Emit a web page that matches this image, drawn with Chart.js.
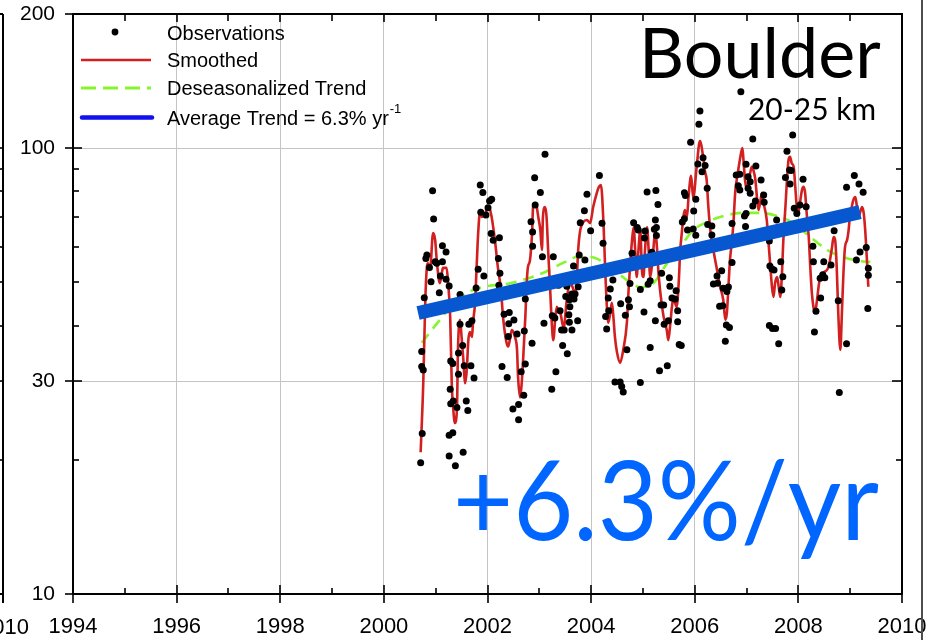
<!DOCTYPE html>
<html>
<head>
<meta charset="utf-8">
<title>Boulder 20-25 km</title>
<script src="https://cdn.jsdelivr.net/npm/chart.js@4/dist/chart.umd.min.js"></script>
<style>
  html, body { margin: 0; padding: 0; background: #ffffff; }
  #wrap { width: 942px; height: 640px; position: relative; }
  canvas { display: block; }
</style>
</head>
<body>
<div id="wrap"><canvas id="c" width="942" height="640"></canvas></div>
<script>
// Axis ticks
const tickYears = [1994, 1996, 1998, 2000, 2002, 2004, 2006, 2008, 2010];
const minorYears = [1995, 1997, 1999, 2001, 2003, 2005, 2007, 2009];
const yTickValues = [10, 30, 100, 200];
const yMinorValues = [20, 40, 50, 60, 70, 80, 90];

// Individual observations (decimal year, value)
const obsYears = [
  2000.71, 2000.74, 2000.73, 2000.73, 2000.76, 2000.78, 2000.81, 2000.83, 2000.88, 2000.91,
  2000.94, 2000.96, 2000.99, 2001.02, 2001.07, 2001.09, 2001.13, 2001.13, 2001.20, 2001.20,
  2001.26, 2001.29, 2001.33, 2001.28, 2001.29, 2001.34, 2001.41, 2001.26, 2001.33, 2001.26,
  2001.38, 2001.44, 2001.44, 2001.47, 2001.47, 2001.52, 2001.55, 2001.53, 2001.59, 2001.62,
  2001.64, 2001.68, 2001.70, 2001.74, 2001.78, 2001.82, 2001.86, 2001.91, 2001.87, 2001.93,
  2001.97, 2002.01, 2002.04, 2002.08, 2002.07, 2002.11, 2002.23, 2002.21, 2002.24, 2002.22,
  2002.32, 2002.42, 2002.41, 2002.51, 2002.57, 2002.40, 2002.28, 2002.38, 2002.49, 2002.60,
  2002.60, 2002.65, 2002.70, 2002.71, 2002.73, 2002.73, 2002.86, 2002.84, 2002.87, 2002.87,
  2002.92, 2002.91, 2003.02, 2003.11, 2003.06, 2003.09, 2003.27, 2003.24, 2003.32, 2003.25,
  2003.30, 2003.37, 2003.40, 2003.43, 2003.48, 2003.45, 2003.54, 2003.51, 2003.57, 2003.58,
  2003.53, 2003.58, 2003.63, 2003.59, 2003.63, 2003.69, 2003.67, 2003.74, 2003.75, 2003.66,
  2003.77, 2003.88, 2003.79, 2003.87, 2003.92, 2003.99, 2004.16, 2004.21, 2004.23, 2004.42,
  2004.37, 2004.33, 2004.34, 2004.28, 2004.30, 2004.57, 2004.72, 2004.74, 2004.66, 2004.69,
  2004.46, 2004.56, 2004.59, 2004.62, 2004.95, 2004.75, 2004.79, 2004.82, 2004.89, 2004.91,
  2004.95, 2005.02, 2005.04, 2005.03, 2005.08, 2005.25, 2005.29, 2005.24, 2005.26, 2005.22,
  2005.26, 2005.10, 2005.14, 2005.17, 2005.24, 2005.14, 2005.32, 2005.47, 2005.36, 2005.35,
  2005.40, 2005.41, 2005.49, 2005.52, 2005.51, 2005.56, 2005.62, 2005.64, 2005.67, 2005.67,
  2005.70, 2005.74, 2005.76, 2005.80, 2005.82, 2005.86, 2005.97, 2006.02, 2005.98, 2006.02,
  2005.80, 2006.10, 2006.08, 2005.92, 2006.16, 2006.06, 2006.20, 2006.14, 2006.24, 2006.89,
  2007.12, 2006.99, 2007.18, 2006.80, 2006.87, 2007.03, 2007.07, 2006.84, 2006.87, 2007.07,
  2007.28, 2007.33, 2007.17, 2007.34, 2006.25, 2006.33, 2006.43, 2006.36, 2006.44, 2006.48,
  2007.89, 2007.78, 2007.83, 2007.86, 2007.75, 2007.84, 2008.09, 2006.33, 2006.72, 2007.03,
  2007.12, 2006.99, 2006.96, 2006.98, 2007.44, 2007.58, 2007.45, 2007.49, 2007.53, 2007.66,
  2007.70, 2007.68, 2007.44, 2007.50, 2007.56, 2007.62, 2006.72, 2006.52, 2006.55, 2006.65,
  2006.62, 2006.54, 2006.61, 2006.67, 2006.59, 2007.92, 2007.97, 2008.03, 2008.15, 2008.28,
  2008.29, 2008.49, 2008.47, 2008.42, 2008.51, 2008.43, 2008.34, 2008.31, 2008.69, 2008.63,
  2008.77, 2008.93, 2008.79, 2008.93, 2009.08, 2009.17, 2009.25, 2009.12, 2009.19, 2009.31,
  2009.35, 2009.35, 2009.34
];
const obsValues = [
  19.7, 22.9, 35.0, 32.4, 31.8, 46.2, 56.6, 57.6, 54.0, 50.2,
  80.3, 69.4, 55.6, 55.2, 47.4, 51.7, 60.4, 55.6, 58.5, 50.8,
  49.1, 33.3, 32.9, 28.8, 26.7, 27.1, 26.2, 22.7, 23.0, 20.4,
  19.4, 34.7, 31.1, 47.0, 40.3, 36.1, 32.5, 20.8, 27.1, 25.8,
  40.3, 32.5, 41.0, 30.5, 48.6, 53.5, 82.7, 79.5, 71.8, 51.7,
  70.8, 73.5, 76.1, 76.8, 64.4, 62.2, 63.0, 56.6, 52.4, 49.3,
  42.4, 42.8, 40.4, 41.2, 38.3, 37.8, 32.4, 30.6, 26.0, 26.6,
  24.6, 31.5, 27.9, 38.9, 32.8, 45.9, 36.5, 68.4, 64.9, 60.3,
  74.6, 85.9, 79.5, 96.9, 57.1, 40.5, 57.1, 28.8, 31.5, 42.1,
  41.6, 49.3, 43.2, 39.1, 39.1, 36.1, 34.6, 46.5, 42.3, 40.7,
  49.0, 45.7, 39.1, 44.1, 47.1, 47.1, 45.9, 41.0, 48.9, 54.4,
  57.6, 56.1, 68.0, 72.4, 78.8, 65.3, 86.9, 67.9, 61.2, 50.6,
  48.3, 46.1, 43.2, 41.9, 39.3, 44.8, 45.7, 44.1, 42.2, 35.3,
  29.9, 29.9, 29.2, 28.4, 29.8, 49.7, 58.1, 68.0, 66.4, 65.5,
  48.2, 42.9, 65.2, 62.9, 79.8, 80.4, 74.8, 69.0, 66.4, 65.8,
  63.7, 49.5, 50.4, 58.4, 41.0, 35.7, 31.7, 32.5, 52.4, 44.5,
  44.5, 40.3, 41.0, 49.0, 51.2, 46.1, 45.9, 47.9, 43.2, 40.8,
  36.3, 36.1, 68.3, 69.5, 78.3, 65.5, 65.9, 63.8, 72.3, 76.8,
  79.4, 121.2, 113.1, 103.1, 95.2, 92.2, 91.4, 88.6, 81.3, 133.9,
  104.9, 92.0, 91.2, 87.1, 87.4, 86.3, 84.1, 82.4, 80.6, 79.2,
  84.9, 78.5, 76.1, 75.6, 67.4, 66.9, 51.7, 49.6, 49.8, 44.2,
  107.1, 98.4, 89.4, 89.1, 86.0, 83.1, 85.2, 63.9, 67.8, 81.3,
  74.2, 71.4, 70.5, 66.7, 61.9, 69.0, 54.4, 53.6, 53.3, 55.6,
  51.5, 48.1, 40.0, 39.4, 39.4, 36.4, 55.4, 53.1, 48.5, 48.8,
  47.7, 44.3, 40.1, 39.6, 36.9, 73.3, 71.4, 74.6, 73.9, 60.3,
  55.6, 55.6, 52.0, 51.1, 51.2, 46.1, 43.1, 38.7, 65.3, 54.7,
  45.5, 36.4, 28.3, 81.7, 86.9, 83.1, 79.6, 56.1, 58.5, 59.9,
  53.8, 51.9, 43.7
];

// Smoothed series
const smoothYears = [
  2000.71, 2000.76, 2000.80, 2000.83, 2000.85, 2000.89, 2000.95, 2000.99, 2001.02, 2001.08,
  2001.12, 2001.14, 2001.21, 2001.24, 2001.28, 2001.31, 2001.34, 2001.37, 2001.41, 2001.43,
  2001.47, 2001.50, 2001.53, 2001.57, 2001.60, 2001.63, 2001.66, 2001.70, 2001.72, 2001.76,
  2001.79, 2001.82, 2001.86, 2001.89, 2001.92, 2001.95, 2001.99, 2002.03, 2002.08, 2002.15,
  2002.20, 2002.26, 2002.30, 2002.37, 2002.40, 2002.44, 2002.47, 2002.53, 2002.57, 2002.59,
  2002.63, 2002.66, 2002.69, 2002.73, 2002.76, 2002.78, 2002.82, 2002.86, 2002.88, 2002.92,
  2002.95, 2002.98, 2003.02, 2003.05, 2003.07, 2003.11, 2003.14, 2003.17, 2003.21, 2003.24,
  2003.27, 2003.31, 2003.34, 2003.36, 2003.40, 2003.47, 2003.53, 2003.59, 2003.66, 2003.69,
  2003.72, 2003.75, 2003.79, 2003.85, 2003.92, 2003.98, 2004.04, 2004.11, 2004.15, 2004.19,
  2004.24, 2004.27, 2004.30, 2004.33, 2004.37, 2004.40, 2004.43, 2004.46, 2004.50, 2004.56,
  2004.62, 2004.69, 2004.72, 2004.75, 2004.79, 2004.82, 2004.85, 2004.88, 2004.91, 2004.95,
  2004.98, 2005.01, 2005.04, 2005.08, 2005.11, 2005.14, 2005.17, 2005.20, 2005.24, 2005.27,
  2005.30, 2005.33, 2005.36, 2005.40, 2005.46, 2005.49, 2005.53, 2005.56, 2005.59, 2005.62,
  2005.65, 2005.69, 2005.72, 2005.75, 2005.78, 2005.81, 2005.85, 2005.88, 2005.93, 2005.97,
  2006.04, 2006.10, 2006.17, 2006.20, 2006.23, 2006.26, 2006.30, 2006.36, 2006.43, 2006.49,
  2006.55, 2006.59, 2006.62, 2006.65, 2006.68, 2006.72, 2006.75, 2006.78, 2006.81, 2006.84,
  2006.88, 2006.92, 2006.94, 2006.97, 2007.01, 2007.04, 2007.07, 2007.10, 2007.13, 2007.17,
  2007.20, 2007.23, 2007.26, 2007.30, 2007.33, 2007.39, 2007.42, 2007.46, 2007.49, 2007.52,
  2007.55, 2007.59, 2007.62, 2007.65, 2007.68, 2007.71, 2007.75, 2007.78, 2007.81, 2007.84,
  2007.87, 2007.91, 2007.94, 2007.97, 2008.00, 2008.03, 2008.07, 2008.10, 2008.13, 2008.16,
  2008.20, 2008.23, 2008.26, 2008.29, 2008.32, 2008.36, 2008.39, 2008.42, 2008.48, 2008.55,
  2008.58, 2008.61, 2008.65, 2008.68, 2008.71, 2008.74, 2008.77, 2008.81, 2008.84, 2008.87,
  2008.90, 2008.94, 2008.97, 2009.00, 2009.03, 2009.06, 2009.10, 2009.13, 2009.16, 2009.19,
  2009.23, 2009.26, 2009.29, 2009.32, 2009.35
];
const smoothValues = [
  20.8, 29.7, 45.7, 54.1, 55.2, 53.3, 64.5, 62.2, 56.1, 49.8,
  52.5, 53.9, 53.9, 49.8, 41.8, 29.7, 25.9, 24.2, 25.9, 35.3,
  41.2, 37.7, 34.0, 29.7, 31.8, 37.1, 38.7, 37.7, 40.6, 45.0,
  54.1, 64.5, 72.7, 70.1, 71.6, 70.1, 73.8, 73.8, 70.1, 61.2,
  54.1, 48.1, 41.8, 36.5, 35.9, 37.7, 39.1, 37.7, 35.3, 30.7,
  27.6, 29.7, 34.0, 41.8, 50.6, 54.1, 56.1, 64.5, 73.8, 75.3,
  73.8, 70.1, 65.5, 59.1, 70.1, 73.8, 70.1, 59.1, 48.1, 40.6,
  37.1, 41.8, 44.1, 43.4, 43.0, 39.5, 45.7, 49.8, 48.1, 46.4,
  49.8, 59.1, 65.5, 68.3, 69.0, 67.9, 73.8, 79.4, 81.9, 82.7,
  67.2, 54.1, 45.0, 40.6, 42.7, 45.0, 41.8, 37.7, 34.8, 33.0,
  35.3, 40.6, 47.4, 54.1, 62.2, 66.5, 59.1, 51.4, 58.2, 65.5,
  53.3, 51.4, 59.1, 66.5, 59.1, 51.4, 54.1, 59.1, 65.5, 60.0,
  52.5, 48.1, 45.0, 41.8, 39.1, 37.1, 40.6, 44.1, 46.4, 45.0,
  44.1, 49.8, 59.1, 64.5, 70.1, 72.7, 70.1, 77.7, 86.7, 77.3,
  91.7, 103.8, 94.1, 88.5, 84.9, 74.6, 65.5, 59.1, 53.3, 48.9,
  45.7, 41.2, 42.7, 48.9, 56.1, 62.2, 69.0, 79.4, 84.9, 89.4,
  95.6, 100.1, 94.1, 84.9, 80.6, 84.9, 88.0, 90.8, 89.4, 84.9,
  77.7, 72.7, 75.3, 79.4, 75.3, 69.0, 62.2, 54.1, 48.9, 46.4,
  49.8, 51.4, 48.9, 46.4, 51.4, 62.2, 73.8, 84.9, 94.1, 95.6,
  92.6, 90.8, 81.9, 73.8, 71.6, 75.3, 80.6, 81.9, 79.4, 71.6,
  63.2, 54.1, 47.4, 44.1, 42.7, 45.7, 48.9, 51.4, 52.5, 53.3,
  54.1, 56.1, 60.0, 63.2, 62.2, 54.1, 42.7, 35.3, 42.7, 52.5,
  60.0, 62.2, 65.5, 71.6, 73.8, 76.5, 77.7, 73.8, 70.1, 71.6,
  73.8, 71.6, 65.5, 57.0, 48.9
];

// Deseasonalized trend
const deseasYears = [
  2000.73, 2001.03, 2001.47, 2001.92, 2002.44, 2003.07, 2003.50, 2003.73, 2003.98, 2004.37,
  2004.69, 2004.95, 2005.20, 2005.47, 2005.72, 2005.97, 2006.24, 2006.49, 2006.93, 2007.26,
  2007.65, 2007.90, 2008.23, 2008.56, 2008.86, 2009.19, 2009.39
];
const deseasValues = [
  36.6, 40.5, 46.4, 48.8, 49.8, 52.5, 55.6, 57.0, 57.0, 54.1,
  50.6, 48.8, 49.8, 55.3, 60.0, 65.5, 68.3, 70.1, 71.6, 71.6,
  70.1, 68.0, 63.2, 59.1, 57.0, 55.8, 55.6
];

// Average trend, 6.3 % per year
const trendYears = [2000.66, 2009.19];
const trendValues = [42.7, 71.9];

const pairs = (xs, ys) => xs.map((x, i) => ({ x, y: ys[i] }));

const SANS = "'Liberation Sans', Arimo, Arial, sans-serif";
const HUMANIST = "Lato, 'Open Sans', sans-serif";

// Frame, tick marks and the edges of the neighbouring panels
const framePlugin = {
  id: 'frame',
  afterDraw(chart) {
    const { ctx, chartArea: a, scales: { x, y } } = chart;
    const seg = (x1, y1, x2, y2) => { ctx.beginPath(); ctx.moveTo(x1, y1); ctx.lineTo(x2, y2); ctx.stroke(); };
    ctx.save();
    ctx.strokeStyle = '#000';
    ctx.lineWidth = 2;
    ctx.strokeRect(a.left, a.top, a.right - a.left, a.bottom - a.top);

    ctx.lineWidth = 1.6;
    tickYears.forEach(v => {
      const px = Math.round(x.getPixelForValue(v));
      seg(px, a.bottom - 9, px, a.bottom + 9);
      seg(px, a.top, px, a.top + 8);
    });
    minorYears.forEach(v => {
      const px = Math.round(x.getPixelForValue(v));
      seg(px, a.bottom - 6, px, a.bottom);
      seg(px, a.top, px, a.top + 7);
    });
    yTickValues.forEach(v => {
      const py = Math.round(y.getPixelForValue(v));
      seg(a.left - 8, py, a.left + 9, py);
      seg(a.right - 10, py, a.right, py);
    });
    yMinorValues.forEach(v => {
      const py = Math.round(y.getPixelForValue(v));
      seg(a.left, py, a.left + 6, py);
      seg(a.right - 6, py, a.right, py);
    });

    // edge of the panel on the left
    ctx.lineWidth = 2;
    seg(3, a.top, 3, a.bottom + 9);
    seg(0, a.top, 3, a.top);
    seg(0, a.bottom, 3, a.bottom);
    ctx.lineWidth = 1.6;
    yTickValues.concat(yMinorValues).forEach(v => {
      const py = Math.round(y.getPixelForValue(v));
      seg(0, py, 3, py);
    });
    ctx.fillStyle = '#000';
    ctx.font = '22px ' + SANS;
    ctx.textAlign = 'center';
    ctx.textBaseline = 'alphabetic';
    ctx.fillText(String(tickYears[tickYears.length - 1]), 4.5, 634);

    // edge of the panel on the right
    ctx.strokeStyle = '#4d4d4d';
    ctx.lineWidth = 2;
    seg(922, 0, 922, 640);
    ctx.restore();
  }
};

// Station name, altitude band and the trend label
const labelsPlugin = {
  id: 'labels',
  afterDraw(chart) {
    const { ctx } = chart;
    ctx.save();
    ctx.textAlign = 'left';
    ctx.textBaseline = 'alphabetic';
    ctx.fillStyle = '#000';
    ctx.font = '70px ' + HUMANIST;
    ctx.fillText('Boulder', 639, 78, 248);
    ctx.font = '30px ' + HUMANIST;
    ctx.fillText('20-25 km', 748, 120, 128);
    ctx.fillStyle = '#0066ff';
    ctx.font = '110px ' + HUMANIST;
    ctx.fillText('+6.3%/yr', 453, 540, 426);
    ctx.restore();
  }
};

// Legend in the upper left corner of the plot
const legendPlugin = {
  id: 'cornerLegend',
  afterDraw(chart) {
    const { ctx } = chart;
    const ds = chart.data.datasets;
    ctx.save();
    ctx.font = '20px ' + SANS;
    ctx.fillStyle = '#000';
    ctx.textAlign = 'left';
    ctx.textBaseline = 'alphabetic';
    const tx = 167;

    ctx.beginPath();
    ctx.arc(115, 32, 3.4, 0, Math.PI * 2);
    ctx.fill();
    ctx.fillText(ds[1].label, tx, 39.5);

    ctx.strokeStyle = ds[2].borderColor;
    ctx.lineWidth = 2.6;
    ctx.beginPath(); ctx.moveTo(81, 60); ctx.lineTo(151, 60); ctx.stroke();
    ctx.fillText(ds[2].label, tx, 67);

    ctx.strokeStyle = ds[3].borderColor;
    ctx.lineWidth = 3;
    ctx.setLineDash([15, 7]);
    ctx.beginPath(); ctx.moveTo(81, 88); ctx.lineTo(151, 88); ctx.stroke();
    ctx.setLineDash([]);
    ctx.fillText(ds[3].label, tx, 95);

    ctx.strokeStyle = '#1010f0';
    ctx.lineWidth = 4.5;
    ctx.lineCap = 'round';
    ctx.beginPath(); ctx.moveTo(82, 117.5); ctx.lineTo(152, 117.5); ctx.stroke();
    const main = 'Average Trend = 6.3% yr';
    ctx.fillText(main, tx, 125);
    const w = ctx.measureText(main).width;
    ctx.font = '13px ' + SANS;
    ctx.fillText('-1', tx + w + 1, 113);
    ctx.restore();
  }
};

new Chart(document.getElementById('c'), {
  type: 'scatter',
  data: {
    datasets: [
      {
        label: 'Average Trend = 6.3% yr-1',
        data: pairs(trendYears, trendValues),
        showLine: true,
        borderColor: '#0657d0',
        backgroundColor: '#0657d0',
        borderWidth: 14,
        borderCapStyle: 'butt',
        pointRadius: 0,
        order: 0
      },
      {
        label: 'Observations',
        data: pairs(obsYears, obsValues),
        backgroundColor: '#000000',
        borderWidth: 0,
        pointRadius: 3.5,
        order: 1
      },
      {
        label: 'Smoothed',
        data: pairs(smoothYears, smoothValues),
        showLine: true,
        borderColor: '#d21f1f',
        backgroundColor: '#d21f1f',
        borderWidth: 2.6,
        cubicInterpolationMode: 'monotone',
        pointRadius: 0,
        order: 2
      },
      {
        label: 'Deseasonalized Trend',
        data: pairs(deseasYears, deseasValues),
        showLine: true,
        borderColor: '#86f52c',
        backgroundColor: '#86f52c',
        borderWidth: 2.6,
        borderDash: [11, 7],
        cubicInterpolationMode: 'monotone',
        pointRadius: 0,
        order: 3
      }
    ]
  },
  options: {
    responsive: false,
    animation: false,
    devicePixelRatio: 1,
    layout: { padding: { left: 0, right: 40, top: 14, bottom: 0 } },
    plugins: { legend: { display: false }, tooltip: { enabled: false } },
    scales: {
      x: {
        type: 'linear',
        min: 1994,
        max: 2010,
        afterBuildTicks: s => { s.ticks = tickYears.map(value => ({ value })); },
        afterFit: s => { s.height = 46; s.paddingLeft = 0; s.paddingRight = 0; },
        border: { display: false },
        grid: { color: '#c4c4c4', lineWidth: 1, drawTicks: false },
        ticks: {
          autoSkip: false,
          maxRotation: 0,
          padding: 20,
          color: '#000',
          font: { family: SANS, size: 22 },
          callback: v => String(v)
        }
      },
      y: {
        type: 'logarithmic',
        min: 10,
        max: 200,
        afterBuildTicks: s => { s.ticks = yTickValues.map(value => ({ value })); },
        afterFit: s => { s.width = 73; s.paddingTop = 0; s.paddingBottom = 0; },
        border: { display: false },
        grid: { color: '#c4c4c4', lineWidth: 1, drawTicks: false },
        ticks: {
          autoSkip: false,
          padding: 18,
          color: '#000',
          font: { family: SANS, size: 21 },
          callback: v => String(v)
        }
      }
    }
  },
  plugins: [framePlugin, labelsPlugin, legendPlugin]
});
</script>
</body>
</html>
